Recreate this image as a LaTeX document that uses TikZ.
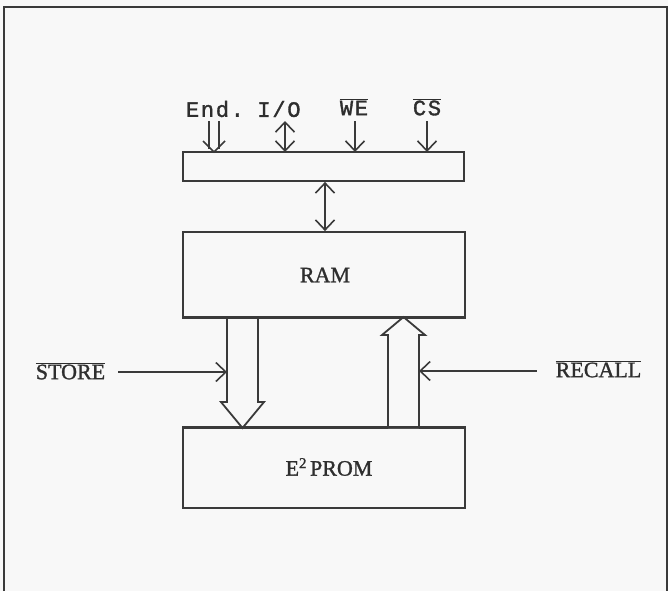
\documentclass[tikz,border=0pt]{standalone}
\usepackage{fontspec}
\setmainfont[FakeBold=1.2]{Liberation Serif}
\newfontfamily\typefont[LetterSpace=8,FakeBold=1.5]{Liberation Mono}
\usetikzlibrary{arrows.meta}
\definecolor{ink}{HTML}{3A3A3A}
\definecolor{txt}{HTML}{2E2E2E}
\definecolor{paper}{HTML}{F8F8F8}
\tikzset{
  x=1pt, y=-1pt,
  box/.style={draw=ink, line width=1.8pt, inner sep=0pt, rectangle, fill=paper},
  lab/.style={text=txt, inner sep=0pt, font=\fontsize{22}{24}\selectfont},
  tlab/.style={text=txt, inner sep=0pt, font=\typefont\fontsize{22}{24}\selectfont},
  conn/.style={draw=ink, line width=1.6pt},
  barb/.tip={Straight Barb[length=10pt,width=19pt,line width=1.6pt]},
  fat/.style={draw=ink, line width=1.8pt, line join=miter, fill=paper}
}
\begin{document}
\begin{tikzpicture}
\useasboundingbox (0,0) rectangle (668,591);
\fill[paper] (0,0) rectangle (668,591);
% frame
\draw[ink, line width=2pt] (3.5,591) -- (3.5,7) -- (666.5,7) -- (666.5,591);

% boxes
\node[box, minimum width=281pt, minimum height=29pt] (bar) at (323.5,166.5) {};
\node[box, minimum width=282pt, minimum height=85pt] (ram) at (324,274.5) {};
\node[box, minimum width=282pt, minimum height=80pt] (eprom) at (324,468) {};
\node[lab] at (325,275) {RAM};
\node[lab] at (329,467) {E\textsuperscript{\fontsize{15}{15}\selectfont 2}\kern3pt PROM};

% top labels
\node[tlab] (lEnd) at (215,109) {End.};
\node[tlab] (lIO) at (279,109) {I/O};
\node[tlab] (lWE) at (354,107) {$\overline{\hbox{\typefont\fontsize{22}{24}\selectfont WE}}$};
\node[tlab] (lCS) at (427,107) {$\overline{\hbox{\typefont\fontsize{22}{24}\selectfont CS}}$};

% input arrows into the bar
\coordinate (endTip) at (214,152);
\coordinate (ioTop) at (285,121);
\coordinate (ioTip) at (285,152);
\coordinate (weTop) at (355,121);
\coordinate (weTip) at (355,152);
\coordinate (csTop) at (427,121);
\coordinate (csTip) at (427,152);
\draw[conn] (209,121) -- (209,149);
\draw[conn] (219,121) -- (219,149);
\draw[conn, line join=miter] (203,141) -- (endTip) -- (225,141);
\draw[conn, {barb}-{barb}] (ioTop) -- (ioTip);
\draw[conn, -{barb}] (weTop) -- (weTip);
\draw[conn, -{barb}] (csTop) -- (csTip);

% bar <-> RAM
\draw[conn, {barb}-{barb}] (bar.south -| 325,0) -- (ram.north -| 325,0);

% wide arrows
\draw[fat] (227,317) -- (227,402) -- (221,402) -- (242.5,428) -- (264,402) -- (258,402) -- (258,317);
\draw[fat] (388,428) -- (388,335) -- (382,335) -- (403.5,317) -- (425,335) -- (419,335) -- (419,428);
\draw[ink, line width=1.8pt] (ram.south west) -- (ram.south east);
\draw[ink, line width=1.8pt] (eprom.north west) -- (eprom.north east);

% STORE / RECALL
\node[lab] (lStore) at (70.5,371) {$\overline{\hbox{\fontsize{22}{24}\selectfont STORE}}$};
\node[lab] (lRecall) at (598.5,369) {$\overline{\hbox{\fontsize{22}{24}\selectfont RECALL}}$};
\coordinate (storeHit) at (227,372);
\coordinate (recallHit) at (419,371);
\draw[conn, -{barb}] ([xshift=13pt]lStore.east |- storeHit) -- (storeHit);
\draw[conn, -{barb}] ([xshift=-19pt]lRecall.west |- recallHit) -- (recallHit);
\end{tikzpicture}
\end{document}
